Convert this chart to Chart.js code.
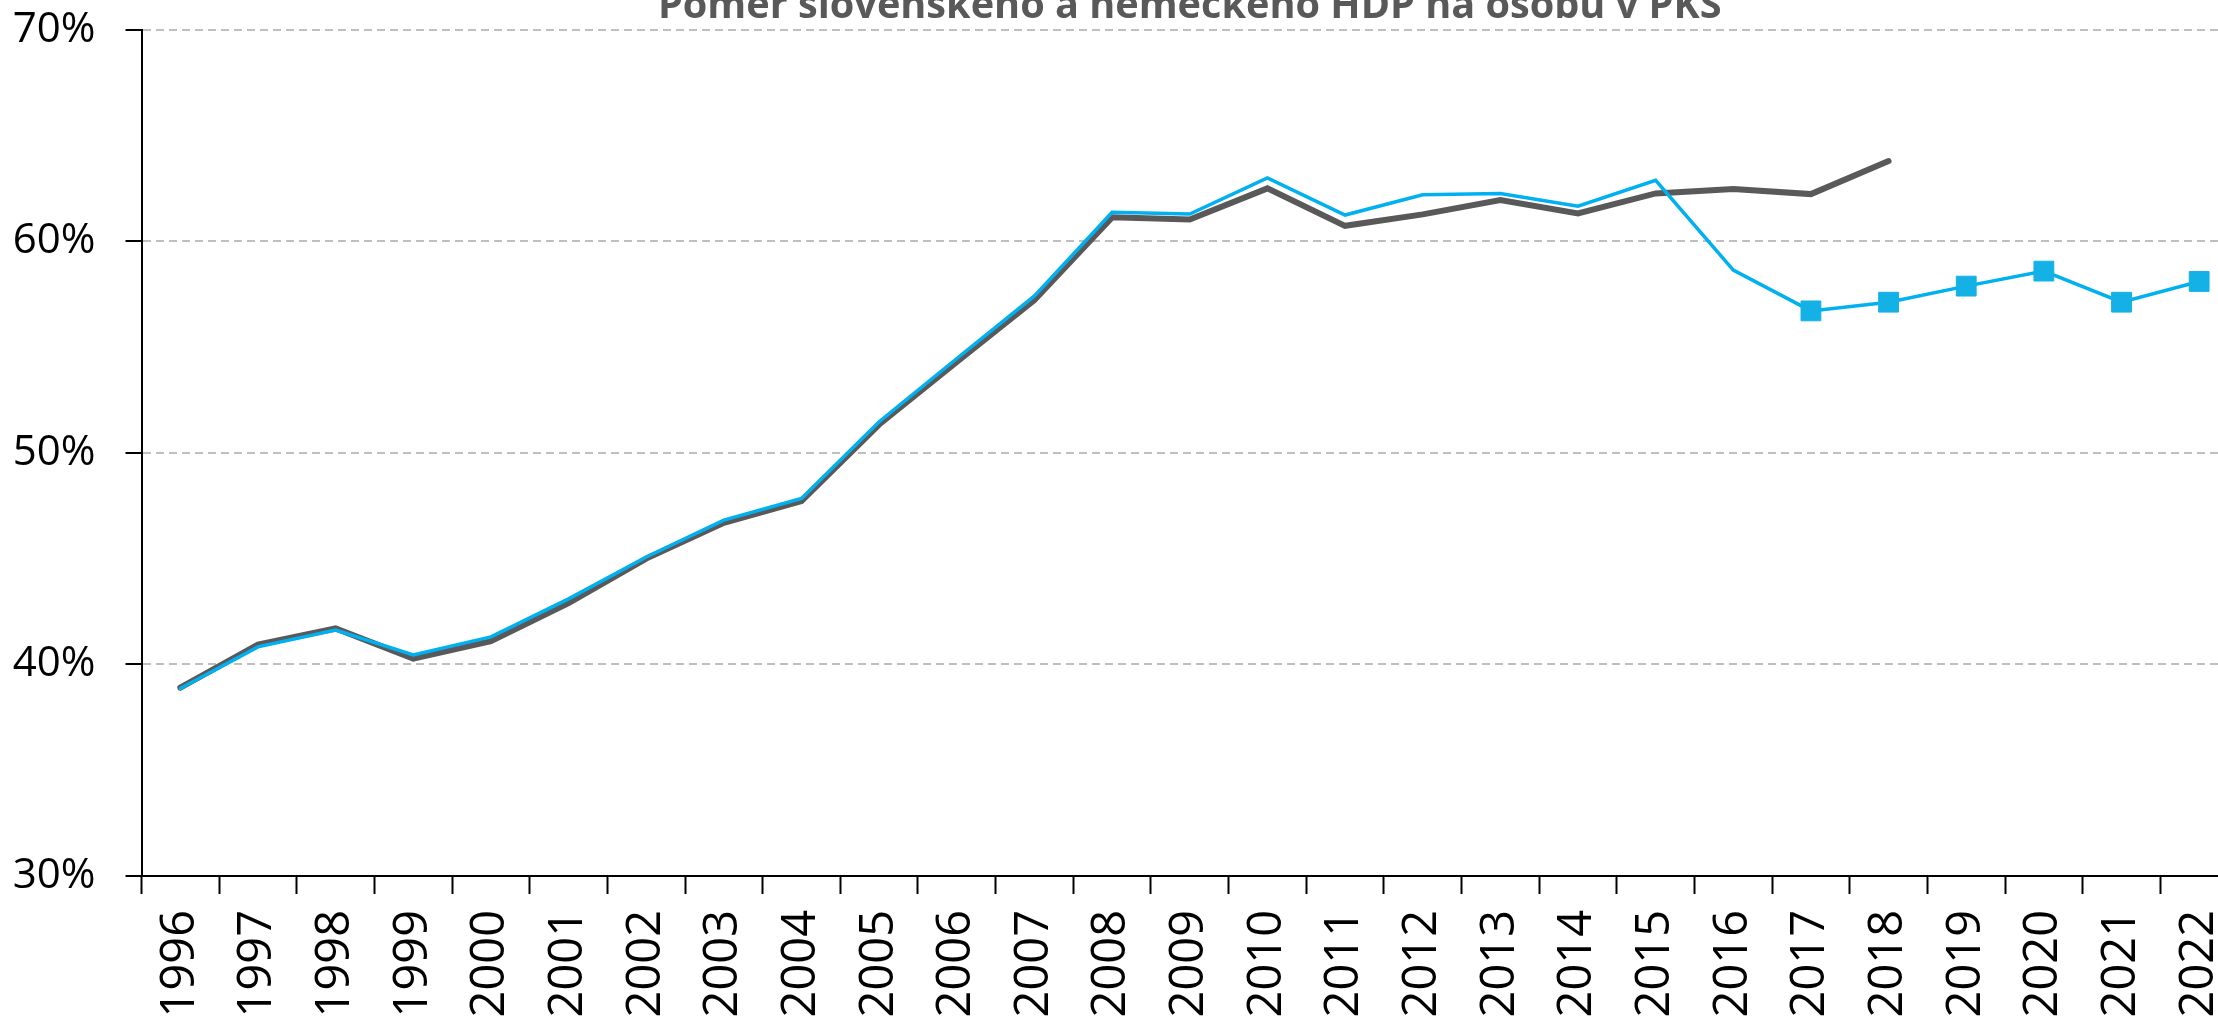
<!DOCTYPE html>
<html>
<head>
<meta charset="utf-8">
<script src="https://cdn.jsdelivr.net/npm/chart.js@4.4.1/dist/chart.umd.min.js"></script>
<style>
    html, body { margin: 0; padding: 0; background: #fff; overflow: hidden; width: 2218px; height: 1017px; }
    #wrap { position: absolute; left: 0; top: -60px; width: 2253px; height: 1086px; }
</style>
</head>
<body>
<div id="wrap"><canvas id="hdpChart" width="2253" height="1086"></canvas></div>
<script>
// Roky
const years = ["1996", "1997", "1998", "1999", "2000", "2001", "2002", "2003", "2004", "2005",
    "2006", "2007", "2008", "2009", "2010", "2011", "2012", "2013", "2014", "2015",
    "2016", "2017", "2018", "2019", "2020", "2021", "2022"];

// Pomer SK/DE v % (modrá - nové údaje + prognóza od 2017)
const ratioNew = [38.86, 40.83, 41.62, 40.45, 41.30, 43.1, 45.08, 46.82, 47.84, 51.47,
    54.46, 57.42, 61.37, 61.29, 62.99, 61.24, 62.2, 62.26, 61.66, 62.88,
    58.64, 56.71, 57.12, 57.88, 58.59, 57.12, 58.1];

// Pomer SK/DE v % (sivá - staré údaje, do 2018)
const ratioOld = [38.9, 40.94, 41.7, 40.28, 41.1, 42.9, 45.0, 46.69, 47.72, 51.34,
    54.3, 57.22, 61.13, 61.03, 62.5, 60.73, 61.27, 61.95, 61.32, 62.26,
    62.47, 62.23, 63.79, null, null, null, null];

// Od ktorého roku je prognóza (štvorčeky)
const forecastFrom = "2017";

const yMin = 30, yMax = 70, yStep = 10;

const titleText = "Pomer slovenského a nemeckého HDP na osobu v PKS";

const blue = "#00b0f0";
const markerBlue = "#14b1e6";
const gray = "#595959";
const fontName = "'Open Sans', 'Liberation Sans', sans-serif";

const firstForecast = years.indexOf(forecastFrom);
const pointSizes = years.map((y, i) => i >= firstForecast ? 14 : 0);

// Nadpis kreslíme sami (je orezaný hore), zarovnaný na stred grafu
const titlePlugin = {
    id: "cutTitle",
    afterDraw(chart) {
        const c = chart.ctx;
        const area = chart.chartArea;
        c.save();
        c.font = "bold 40px " + fontName;
        const w = c.measureText(titleText).width;
        const size = 40 * 1064 / w;
        c.font = "bold " + size + "px " + fontName;
        c.fillStyle = gray;
        c.textAlign = "center";
        c.textBaseline = "alphabetic";
        c.fillText(titleText, (area.left + area.right) / 2, 78);
        c.restore();
    }
};

const ctx = document.getElementById("hdpChart").getContext("2d");
new Chart(ctx, {
    type: "line",
    data: {
        labels: years,
        datasets: [
            {
                label: "SK/DE nové",
                data: ratioNew,
                borderColor: blue,
                backgroundColor: markerBlue,
                borderWidth: 3.5,
                pointStyle: "rect",
                pointRadius: pointSizes,
                pointBorderWidth: 1,
                pointBorderColor: markerBlue,
                pointBackgroundColor: markerBlue,
                tension: 0,
                borderCapStyle: "round"
            },
            {
                label: "SK/DE staré",
                data: ratioOld,
                borderColor: gray,
                backgroundColor: gray,
                borderWidth: 6,
                pointRadius: 0,
                tension: 0,
                borderCapStyle: "round"
            }
        ]
    },
    options: {
        responsive: false,
        animation: false,
        layout: { padding: { left: 0, right: 0, top: 89.7, bottom: 0 } },
        scales: {
            x: {
                offset: true,
                afterFit: (scale) => {
                    scale.height = 150;
                    scale.paddingLeft = 0;
                    scale.paddingRight = 0;
                },
                grid: {
                    offset: true,
                    drawOnChartArea: false,
                    tickLength: 18,
                    tickColor: "#000",
                    tickWidth: 2
                },
                border: { display: true, color: "#000", width: 2 },
                ticks: {
                    color: "#000",
                    font: { family: fontName, size: 47 },
                    maxRotation: 90,
                    minRotation: 90,
                    padding: 16,
                    autoSkip: false
                }
            },
            y: {
                min: yMin,
                max: yMax,
                afterFit: (scale) => { scale.width = 141.5; },
                grid: {
                    color: "#bfbfbf",
                    lineWidth: 2,
                    tickLength: 16,
                    tickColor: "#000",
                    tickWidth: 2,
                    tickBorderDash: []
                },
                border: { display: true, color: "#000", width: 2, dash: [8, 5] },
                ticks: {
                    stepSize: yStep,
                    color: "#000",
                    font: { family: fontName, size: 42 },
                    padding: 30,
                    callback: (v) => v + "%"
                }
            }
        },
        plugins: {
            legend: { display: false },
            tooltip: { enabled: false },
            title: { display: false }
        }
    },
    plugins: [titlePlugin]
});
</script>
</body>
</html>
